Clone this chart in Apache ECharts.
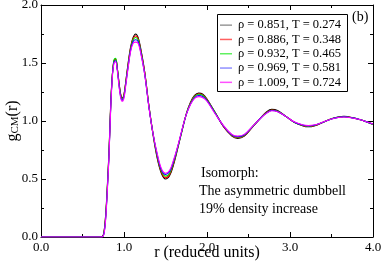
<!DOCTYPE html>
<html><head><meta charset="utf-8">
<script src="https://cdn.jsdelivr.net/npm/echarts@6/dist/echarts.min.js"></script>
<style>html,body{margin:0;padding:0;background:#fff}#c{width:382px;height:268px}</style>
</head><body><div id="c"></div>
<script>
const r = [0,0.70,0.74,0.76,0.78,0.80,0.82,0.84,0.86,0.88,0.90,0.92,0.94,0.96,0.98,1.00,1.02,1.05,1.08,1.11,1.14,1.17,1.20,1.25,1.30,1.35,1.40,1.45,1.50,1.55,1.60,1.65,1.70,1.75,1.80,1.85,1.90,1.95,2.00,2.10,2.20,2.30,2.37,2.45,2.55,2.65,2.72,2.78,2.85,2.95,3.05,3.15,3.22,3.30,3.40,3.50,3.58,3.65,3.75,3.85,3.95,4.00];
const g851 = [0,0,0.005,0.05,0.20,0.45, 0.75,1.15,1.40,1.52,1.53, 1.45,1.33,1.23,1.20,1.23, 1.33,1.50,1.64,1.72,1.75, 1.72,1.63,1.42,1.13,0.88, 0.68,0.55,0.50,0.53,0.63, 0.77,0.92,1.06,1.16,1.22, 1.24,1.23,1.19,1.07,0.95, 0.87,0.85,0.87,0.95,1.03, 1.08,1.10,1.09,1.04,0.99, 0.96,0.95,0.96,0.99,1.02, 1.035,1.04,1.03,1.01,0.985, 0.97];
const g886 = [0,0,0.004,0.045,0.19,0.44, 0.74,1.14,1.40,1.52,1.53, 1.45,1.33,1.23,1.195,1.23, 1.33,1.49,1.63,1.71,1.735, 1.71,1.62,1.42,1.13,0.89, 0.69,0.56,0.51,0.54,0.64, 0.78,0.92,1.06,1.155,1.215, 1.235,1.225,1.185,1.07,0.95, 0.875,0.855,0.875,0.95,1.03, 1.075,1.095,1.085,1.04,0.99, 0.962,0.952,0.962,0.99,1.02, 1.033,1.038,1.028,1.01,0.985, 0.972];
const g932 = [0,0,0.003,0.04,0.18,0.43, 0.73,1.13,1.40,1.53,1.54, 1.45,1.32,1.22,1.19,1.22, 1.32,1.48,1.62,1.70,1.72, 1.70,1.61,1.41,1.13,0.89, 0.70,0.57,0.525,0.55,0.65, 0.78,0.92,1.06,1.15,1.21, 1.23,1.22,1.18,1.07,0.955, 0.878,0.86,0.878,0.952,1.03, 1.072,1.093,1.083,1.04,0.99, 0.964,0.955,0.964,0.99,1.02, 1.032,1.037,1.028,1.01,0.986, 0.973];
const g969 = [0,0,0.002,0.035,0.17,0.42, 0.72,1.12,1.39,1.51,1.52, 1.44,1.31,1.21,1.18,1.21, 1.31,1.47,1.61,1.685,1.70, 1.685,1.60,1.40,1.12,0.89, 0.71,0.58,0.54,0.565,0.66, 0.785,0.925,1.055,1.145,1.20, 1.22,1.21,1.175,1.065,0.955, 0.88,0.865,0.882,0.953,1.028, 1.07,1.09,1.081,1.04,0.992, 0.965,0.957,0.965,0.99,1.018, 1.031,1.036,1.027,1.01,0.986, 0.974];
const g1009 = [0,0,0.001,0.03,0.16,0.41, 0.71,1.11,1.38,1.50,1.51, 1.43,1.30,1.20,1.17,1.20, 1.30,1.46,1.60,1.67,1.68, 1.67,1.59,1.40,1.12,0.89, 0.72,0.59,0.55,0.575,0.67, 0.79,0.93,1.055,1.14,1.195, 1.21,1.20,1.17,1.06,0.96, 0.885,0.87,0.885,0.955,1.027, 1.068,1.088,1.08,1.04,0.993, 0.967,0.96,0.967,0.991,1.017, 1.03,1.035,1.026,1.01,0.987, 0.975];
const seriesNames = ['ρ = 0.851, T = 0.274','ρ = 0.886, T = 0.348','ρ = 0.932, T = 0.465','ρ = 0.969, T = 0.581','ρ = 1.009, T = 0.724'];
const seriesValues = [g851,g886,g932,g969,g1009];
const seriesColors = ['#000000','#ff0000','#00e000','#0000ff','#ff00ff'];
const legendColors = ['#999999','#ff6060','#60f060','#9090ff','#ff50ff'];
const xTicks = [0,1,2,3,4];
const yTicks = [0,0.5,1,1.5,2];
const noteLines = ['Isomorph:','The asymmetric dumbbell','19% density increase'];

const font = '"Liberation Serif", "Times New Roman", serif';
const chart = echarts.init(document.getElementById('c'), null, {renderer:'canvas'});
function axisBase(show){
  return {
    axisLine:{show:true,onZero:false,lineStyle:{color:'#000',width:1}},
    axisTick:{show:true,inside:true,length:5,lineStyle:{color:'#000'}},
    minorTick:{show:true,splitNumber:2,length:3,lineStyle:{color:'#000'}},
    splitLine:{show:false},
    axisLabel:{show:show,color:'#000',fontFamily:font,fontSize:13}
  };
}
const xMain = Object.assign(axisBase(true),{type:'value',min:0,max:4,interval:1,position:'bottom',
  name:'r (reduced units)',nameLocation:'middle',nameGap:8,nameMoveOverlap:false,nameTextStyle:{fontFamily:font,fontSize:16,color:'#000',verticalAlign:'top'}});
xMain.axisLabel.formatter = v=>v.toFixed(1); xMain.axisLabel.margin=4;
const xTop = Object.assign(axisBase(false),{type:'value',min:0,max:4,interval:1,position:'top'});
const yMain = Object.assign(axisBase(true),{type:'value',min:0,max:2,interval:0.5,position:'left',
  name:'{g|g}{s|CM}{g|(r)}',nameLocation:'middle',nameGap:20,nameRotate:90,nameMoveOverlap:false,
  nameTextStyle:{verticalAlign:'bottom',rich:{
    g:{fontFamily:font,fontSize:16,lineHeight:16,verticalAlign:'top',color:'#000'},
    s:{fontFamily:font,fontSize:11,lineHeight:11,verticalAlign:'bottom',color:'#000',padding:[8,0,0,0]}}}});
yMain.axisLabel.formatter = v=>v.toFixed(1); yMain.axisLabel.margin=3;
const yRight = Object.assign(axisBase(false),{type:'value',min:0,max:2,interval:0.5,position:'right'});

const series = seriesNames.map((n,i)=>({
  name:n,type:'line',xAxisIndex:0,yAxisIndex:0,showSymbol:false,smooth:0.35,
  lineStyle:{color:seriesColors[i],width:1.1},itemStyle:{color:seriesColors[i]},
  data:r.map((x,j)=>[x,seriesValues[i][j]]),z:2+i,animation:false
}));

chart.setOption({
  animation:false,
  textStyle:{fontFamily:font},
  grid:{left:41,right:9,top:5,bottom:31,containLabel:false,outerBoundsMode:'none'},
  xAxis:[xMain,xTop],
  yAxis:[yMain,yRight],
  legend:{orient:'vertical',left:220,top:18,z:50,zlevel:0,
    data:seriesNames.map((n,i)=>({name:n,itemStyle:{color:legendColors[i]}})),
    icon:'rect',itemWidth:12,itemHeight:1.5,itemGap:0,padding:0,
    textStyle:{fontFamily:font,fontSize:12.5,color:'#000',lineHeight:14.3,padding:[0,0,0,1]}},
  graphic:[
    {type:'rect',left:217,top:14,z:-10,shape:{width:130,height:77},style:{fill:'rgba(0,0,0,0)',stroke:'#000',lineWidth:1}},
    {type:'text',left:352,top:10,style:{text:'(b)',font:'14px "Liberation Serif"',fill:'#000'}},
    ...noteLines.map((t,i)=>({type:'text',left:i===0?201:199,top:166+i*18,style:{text:t,font:'14px "Liberation Serif"',fill:'#000'}}))
  ],
  series:series
});
</script></body></html>
